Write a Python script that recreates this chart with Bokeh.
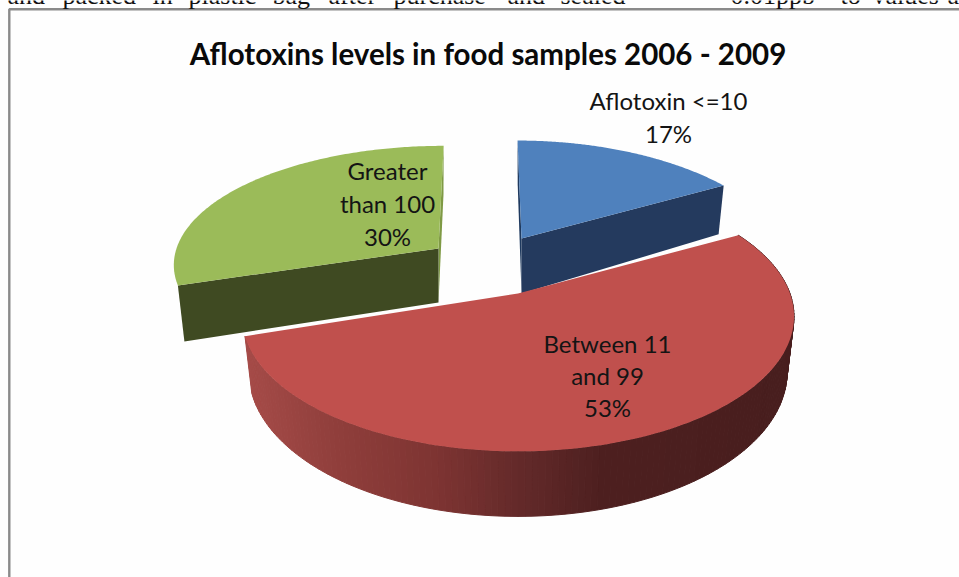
import numpy as np
from bokeh.plotting import figure
from bokeh.models import Range1d
from bokeh.core.properties import value
from bokeh.embed import file_html
from bokeh.resources import INLINE

# data
categories = ["Aflotoxin <=10", "Between 11 and 99", "Greater than 100"]
label_lines = [["Aflotoxin <=10"], ["Between 11", "and 99"], ["Greater", "than 100"]]
percents = [17, 53, 30]
title_text = "Aflotoxins levels in food samples 2006 - 2009"
page_words = ["and", "packed", "in", "plastic", "bag", "after", "purchase", "and", "sealed", "0.01ppb", "to", "values", "a"]
page_word_x = [7, 62, 152, 188, 272, 328, 393, 507, 560, 730, 840, 872, 947]

# styling / layout per slice
top_colors = ["#4F81BD", "#C0504D", "#9BBB59"]
dark_colors = ["#243A5E", "#6E2C2A", "#3F4A22"]
sliver_colors = ["#1F3A5F", "#8F3D3B", "#7F9A45"]
geom = [
    dict(cx=521, cy=238, R=263, Ry=124, k=0.266, d=55, shear=-0.04),
    dict(cx=517.5, cy=293, R=272, Ry=131, k=0.17, d=54, shear=0.0),
    dict(cx=438, cy=248, R=262, Ry=115, k=0.12, d=54, shear=0.05),
]
label_pos = [(668, 100, 33), (607, 343, 32), (387, 170, 33)]
BOTTOM = 0.975
grad_x = [247, 340, 430, 520, 600, 795]
grad_r = [165, 143, 127, 100, 78, 72]
grad_g = [75, 62, 53, 42, 32, 30]
grad_b = [72, 59, 51, 42, 32, 30]

p = figure(width=959, height=577, output_backend="svg", toolbar_location=None,
           x_range=Range1d(0, 959), y_range=Range1d(577, 0), min_border=0,
           outline_line_color=None, background_fill_color="#FEFEFE",
           border_fill_color="#FEFEFE",
           styles={"position": "absolute", "left": "0px", "top": "0px"})
p.axis.visible = False
p.grid.visible = False


def rim(g, th, depth=False):
    f = 1.0 / (1.0 + g["k"] * np.cos(th))
    up = g["Ry"] * np.cos(th) * f
    x = g["R"] * np.sin(th) * f + g["shear"] * up
    y = -up
    if depth:
        return g["cx"] + x * BOTTOM, g["cy"] + y + g["d"] * f
    return g["cx"] + x, g["cy"] + y


cum = np.concatenate([[0], np.cumsum(percents)]) / np.sum(percents) * 2 * np.pi
for i in [2, 0, 1]:
    g = geom[i]
    a0, a1 = cum[i], cum[i + 1]
    th = np.linspace(a0, a1, 160)
    tx, ty = rim(g, th)
    bx, by = rim(g, th, True)
    ax0, ay0 = g["cx"], g["cy"]
    bax, bay = g["cx"], g["cy"] + g["d"]
    if i == 1:
        # outer wall in strips, shaded from the left to the right
        xs, ys, cols = [], [], []
        for j in range(len(th) - 1):
            xs.append([tx[j], tx[j + 1], bx[j + 1], bx[j]])
            ys.append([ty[j], ty[j + 1], by[j + 1], by[j]])
            mx = (tx[j] + tx[j + 1]) / 2
            c = (int(np.interp(mx, grad_x, grad_r)), int(np.interp(mx, grad_x, grad_g)),
                 int(np.interp(mx, grad_x, grad_b)))
            cols.append("#%02x%02x%02x" % c)
        p.patches(xs, ys, fill_color=cols, line_color=cols, line_width=1.0)
    else:
        # cut faces: the one that looks to the viewer is dark, the other a sliver
        dark_end = -1 if i == 0 else 0
        sliver_end = 0 if i == 0 else -1
        p.patch([ax0, tx[sliver_end], bx[sliver_end], bax], [ay0, ty[sliver_end], by[sliver_end], bay],
                fill_color=sliver_colors[i], line_color=None)
        p.patch([ax0, tx[dark_end], bx[dark_end], bax], [ay0, ty[dark_end], by[dark_end], bay],
                fill_color=dark_colors[i], line_color=None)
    # top surface
    p.patch([ax0] + list(tx), [ay0] + list(ty), fill_color=top_colors[i], line_color=None)

# frame
p.line([959, 8.8, 8.8], [8.8, 8.8, 577], line_color="#8A8A8A", line_width=2.4)

# page text fragment above the chart
p.text(page_word_x, [-5] * len(page_words), text=page_words, text_font=value("Liberation Serif"),
       text_font_size="26px", text_baseline="alphabetic", text_color="#111111")

# title and labels
p.text([487.5], [53], text=[title_text], text_font=value("Lato"), text_font_style="bold",
       text_font_size="29.5px", text_align="center", text_baseline="middle", text_color="#0A0A0A")
for i in range(3):
    x0, y0, step = label_pos[i]
    lines = label_lines[i] + ["%d%%" % percents[i]]
    p.text([x0] * len(lines), [y0 + step * n for n in range(len(lines))], text=lines,
           text_font=value("Lato"), text_font_size="24px", text_align="center",
           text_baseline="middle", text_color="#141414")

open("out.html", "w").write(file_html(p, INLINE))
